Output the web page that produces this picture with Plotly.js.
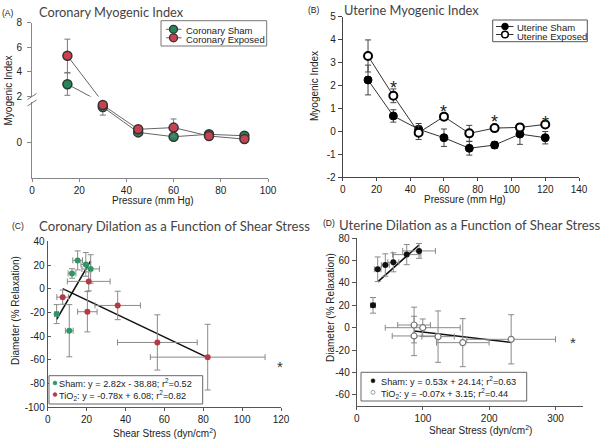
<!DOCTYPE html>
<html>
<head>
<meta charset="utf-8">
<script src="https://cdn.plot.ly/plotly-3.0.1.min.js"></script>
<style>html,body{margin:0;padding:0;background:#fff;}#chart{width:600px;height:442px;}</style>
</head>
<body>
<div id="chart"></div>
<script>
// ---------- DATA ----------
// (A) Coronary myogenic index
const corPressure = [15, 30, 45, 60, 75, 90];
const corShamMI   = [3.0, 1.46, 0.40, 0.22, 0.32, 0.26];
const corShamErr  = [0.9, 0.34, 0.06, 0.06, 0.06, 0.06];
const corExpMI    = [5.3, 1.54, 0.53, 0.60, 0.25, 0.12];
const corExpErr   = [1.35, 0.2, 0.08, 0.36, 0.08, 0.08];
const corUpperTicks = [2, 4, 6, 8];
const corLowerTicks = [0];
const corXTicks = [0, 20, 40, 60, 80, 100];

// (B) Uterine myogenic index
const utPressure = [15, 30, 45, 60, 75, 90, 105, 120];
const utShamMI   = [2.24, 0.67, 0.09, -0.28, -0.74, -0.60, -0.12, -0.28];
const utShamErr  = [0.65, 0.27, 0.25, 0.38, 0.30, 0.15, 0.45, 0.27];
const utExpMI    = [3.29, 1.55, -0.06, 0.64, -0.09, 0.14, 0.17, 0.30];
const utExpErr   = [0.70, 0.30, 0.30, 0.10, 0.35, 0.10, 0.07, 0.10];
const utSigX = [30, 60, 90, 120];
const utSigY = [2.12, 1.06, 0.62, 0.59];
const utXTicks = [0, 20, 40, 60, 80, 100, 120, 140];
const utYTicks = [-2, -1, 0, 1, 2, 3, 4, 5];

// (C) Coronary dilation vs shear stress
const cShamShear = [4.6, 11.1, 12.5, 15.4, 19.6, 22.1];
const cShamShearErr = [1, 2, 2, 2.5, 2.5, 4.5];
const cShamDiam  = [-21.4, -35.4, 12.9, 23.9, 20.5, 16.7];
const cShamDiamErr = [8, 22, 4, 8, 10, 12];
const cTiShear = [7.7, 20.4, 21.1, 36, 56.4, 82.3];
const cTiShearErr = [3, 5, 11, 11.7, 20.5, 29.5];
const cTiDiam  = [-7.1, -19.4, 6.2, -14.1, -45.3, -57.7];
const cTiDiamErr = [6, 17, 8, 12, 23.3, 27.7];
const cFitSlope = [2.82, -0.78];
const cFitIntercept = [-38.88, 6.08];
const cSigX = [119.5], cSigY = [-62];
const cXTicks = [0, 20, 40, 60, 80, 100, 120];
const cYTicks = [-100, -80, -60, -40, -20, 0, 20, 40];

// (D) Uterine dilation vs shear stress
const dShamShear = [24.6, 31.7, 43.2, 55.3, 75.5, 94.1];
const dShamShearErr = [3.8, 5, 6, 8.3, 21.4, 24.7];
const dShamDiam  = [20, 52.3, 56.1, 58.5, 65.4, 68.7];
const dShamDiamErr = [7, 11, 10, 8.5, 9, 6.6];
const dTiShear = [86.6, 99.7, 86.6, 122.8, 160.1, 233.1];
const dTiShearErr = [24.7, 56.6, 33, 24.5, 39.7, 67];
const dTiDiam  = [2.4, 0, -7.4, -8, -13.4, -10.4];
const dTiDiamErr = [16, 7.8, 17.6, 23, 21.5, 22];
const dFitSlope = [0.53, -0.07];
const dFitIntercept = [24.14, 3.15];
const dSigX = [327], dSigY = [-9.5];
const dXTicks = [0, 100, 200, 300];
const dYTicks = [-60, -40, -20, 0, 20, 40, 60, 80];

// ---------- HELPERS ----------
const W = 600, H = 442;
const px = x => x / W;
const py = y => 1 - y / H;
const FONT = 'Liberation Sans, Arial, sans-serif';
const TFONT = 'Lato, Open Sans, sans-serif';
const GREEN = '#23875a', RED = '#c8424f';
const CGREEN = '#2f9666', CRED = '#b53a44';
const ERR = '#8a8a8a';

function fitLine(xs, slope, intercept) {
  const lo = Math.min(...xs), hi = Math.max(...xs);
  return {x: [lo, hi], y: [slope * lo + intercept, slope * hi + intercept]};
}
const labels = v => v.map(t => String(t));

const traces = [];
// ---- (A) ----
const mkA = (c) => ({size: 9, color: c, line: {color: '#333', width: 1.5}});
[['y', corShamMI], ['y', corExpMI], ['y2', corShamMI], ['y2', corExpMI]].forEach(([ya, ys]) => {
  traces.push({x: corPressure, y: ys, xaxis: 'x', yaxis: ya, mode: 'lines',
    line: {color: '#666', width: 1}, hoverinfo: 'skip', showlegend: false});
});
traces.push({x: corPressure.slice(0, 1), y: corShamMI.slice(0, 1), xaxis: 'x', yaxis: 'y', mode: 'markers',
  marker: mkA(GREEN), cliponaxis: false, showlegend: false,
  error_y: {type: 'data', array: corShamErr.slice(0, 1), color: '#777', thickness: 1, width: 3}});
traces.push({x: corPressure.slice(0, 1), y: corExpMI.slice(0, 1), xaxis: 'x', yaxis: 'y', mode: 'markers',
  marker: mkA(RED), cliponaxis: false, showlegend: false,
  error_y: {type: 'data', array: corExpErr.slice(0, 1), color: '#777', thickness: 1, width: 3}});
traces.push({x: corPressure.slice(1), y: corShamMI.slice(1), xaxis: 'x', yaxis: 'y2', mode: 'markers',
  marker: mkA(GREEN), cliponaxis: false, showlegend: false,
  error_y: {type: 'data', array: corShamErr.slice(1), color: '#777', thickness: 1, width: 3}});
traces.push({x: corPressure.slice(1), y: corExpMI.slice(1), xaxis: 'x', yaxis: 'y2', mode: 'markers',
  marker: mkA(RED), cliponaxis: false, showlegend: false,
  error_y: {type: 'data', array: corExpErr.slice(1), color: '#777', thickness: 1, width: 3}});

// ---- (B) ----
traces.push({x: utPressure, y: utShamMI, xaxis: 'x2', yaxis: 'y3', mode: 'lines+markers',
  line: {color: '#333', width: 1}, marker: {size: 8, color: '#000', line: {color: '#000', width: 1}},
  error_y: {type: 'data', array: utShamErr, color: '#444', thickness: 1, width: 3},
  cliponaxis: false, showlegend: false});
traces.push({x: utPressure, y: utExpMI, xaxis: 'x2', yaxis: 'y3', mode: 'lines+markers',
  line: {color: '#333', width: 1}, marker: {size: 8, color: '#fff', line: {color: '#000', width: 2}},
  error_y: {type: 'data', array: utExpErr, color: '#444', thickness: 1, width: 3},
  cliponaxis: false, showlegend: false});

// ---- (C) ----
[fitLine(cShamShear, cFitSlope[0], cFitIntercept[0]), fitLine(cTiShear, cFitSlope[1], cFitIntercept[1])].forEach(f => {
  traces.push({x: f.x, y: f.y, xaxis: 'x3', yaxis: 'y4', mode: 'lines',
    line: {color: '#111', width: 1.6}, showlegend: false, hoverinfo: 'skip'});
});
traces.push({x: cShamShear, y: cShamDiam, xaxis: 'x3', yaxis: 'y4', mode: 'markers',
  marker: {size: 6, color: CGREEN}, cliponaxis: false, showlegend: false,
  error_x: {type: 'data', array: cShamShearErr, color: ERR, thickness: 1, width: 3},
  error_y: {type: 'data', array: cShamDiamErr, color: ERR, thickness: 1, width: 3}});
traces.push({x: cTiShear, y: cTiDiam, xaxis: 'x3', yaxis: 'y4', mode: 'markers',
  marker: {size: 6, color: CRED}, cliponaxis: false, showlegend: false,
  error_x: {type: 'data', array: cTiShearErr, color: ERR, thickness: 1, width: 3},
  error_y: {type: 'data', array: cTiDiamErr, color: ERR, thickness: 1, width: 3}});

// ---- (D) ----
[fitLine(dShamShear.slice(1), dFitSlope[0], dFitIntercept[0]), fitLine(dTiShear, dFitSlope[1], dFitIntercept[1])].forEach(f => {
  traces.push({x: f.x, y: f.y, xaxis: 'x4', yaxis: 'y5', mode: 'lines',
    line: {color: '#111', width: 1.6}, showlegend: false, hoverinfo: 'skip'});
});
traces.push({x: dShamShear, y: dShamDiam, xaxis: 'x4', yaxis: 'y5', mode: 'markers',
  marker: {size: 6, color: '#111'}, cliponaxis: false, showlegend: false,
  error_x: {type: 'data', array: dShamShearErr, color: ERR, thickness: 1, width: 3},
  error_y: {type: 'data', array: dShamDiamErr, color: ERR, thickness: 1, width: 3}});
traces.push({x: dTiShear, y: dTiDiam, xaxis: 'x4', yaxis: 'y5', mode: 'markers',
  marker: {size: 6, color: '#fff', line: {color: '#777', width: 1.2}}, cliponaxis: false, showlegend: false,
  error_x: {type: 'data', array: dTiShearErr, color: ERR, thickness: 1, width: 3},
  error_y: {type: 'data', array: dTiDiamErr, color: ERR, thickness: 1, width: 3}});

// ---------- AXES ----------
function axis(opts) {
  return Object.assign({
    showline: true, linecolor: '#666', linewidth: 1, ticks: 'outside', ticklen: 3,
    tickcolor: '#666', showgrid: false, zeroline: false, fixedrange: true,
    tickfont: {family: FONT, size: 10, color: '#222'}, tickmode: 'array'
  }, opts);
}

const layout = {
  width: W, height: H, margin: {l: 0, r: 0, t: 0, b: 0},
  paper_bgcolor: '#fff', plot_bgcolor: 'rgba(0,0,0,0)', showlegend: false,
  font: {family: FONT, size: 10, color: '#222'},
  xaxis: axis({domain: [px(32), px(268)], range: [0, 100], anchor: 'y2',
    tickvals: corXTicks, ticktext: labels(corXTicks), linecolor: '#888', tickcolor: '#888'}),
  yaxis: axis({domain: [py(96.5), py(22.5)], range: [2, 8], anchor: 'x',
    tickvals: corUpperTicks, ticktext: labels(corUpperTicks), linecolor: '#888', tickcolor: '#888', ticklen: 4, ticklabelstandoff: 3}),
  yaxis2: axis({domain: [py(178), py(102.4)], range: [-1.5, 1.65], anchor: 'x',
    tickvals: corLowerTicks, ticktext: labels(corLowerTicks), linecolor: '#888', tickcolor: '#888', ticklen: 4, ticklabelstandoff: 3}),
  xaxis2: axis({domain: [px(342.7), px(579)], range: [0, 140], anchor: 'y3',
    tickvals: utXTicks, ticktext: labels(utXTicks), linecolor: '#444', tickcolor: '#444'}),
  yaxis3: axis({domain: [py(177.1), py(16.8)], range: [-2, 5], anchor: 'x2',
    tickvals: utYTicks, ticktext: labels(utYTicks), linecolor: '#444', tickcolor: '#444', ticklen: 4}),
  xaxis3: axis({domain: [px(47.7), px(281)], range: [0, 120], anchor: 'y4',
    tickvals: cXTicks, ticktext: labels(cXTicks), linecolor: '#555', tickcolor: '#555'}),
  yaxis4: axis({domain: [py(407.3), py(241.3)], range: [-100, 40], anchor: 'x3',
    tickvals: cYTicks, ticktext: labels(cYTicks), linecolor: '#555', tickcolor: '#555', ticks: 'inside'}),
  xaxis4: axis({domain: [px(356.7), px(583.3)], range: [0, 342], anchor: 'y5',
    tickvals: dXTicks, ticktext: labels(dXTicks), linecolor: '#555', tickcolor: '#555'}),
  yaxis5: axis({domain: [py(405.9), py(238.3)], range: [-70, 80], anchor: 'x4',
    tickvals: dYTicks, ticktext: labels(dYTicks), linecolor: '#555', tickcolor: '#555', ticklen: 4})
};

// ---------- ANNOTATIONS ----------
const ann = [];
function txt(x, y, text, o) {
  ann.push(Object.assign({xref: 'paper', yref: 'paper', x: px(x), y: py(y), text: text, showarrow: false,
    xanchor: 'center', yanchor: 'middle', font: {family: FONT, size: 10, color: '#222'}}, o || {}));
}
// panel labels
const pl = {family: FONT, size: 8.5, color: '#222'};
txt(8, 13, '(A)', {font: pl});
txt(313.5, 10, '(B)', {font: pl});
txt(17.5, 226.5, '(C)', {font: pl});
txt(328.5, 223, '(D)', {font: pl});
// titles
txt(36.5, 12, 'Coronary Myogenic Index', {xanchor: 'left', font: {family: TFONT, size: 12.8, color: '#444'}});
txt(342, 9.5, 'Uterine Myogenic Index', {xanchor: 'left', font: {family: TFONT, size: 12.8, color: '#444'}});
txt(36.5, 226, 'Coronary Dilation as a Function of Shear Stress', {xanchor: 'left', font: {family: TFONT, size: 13.2, color: '#444'}});
txt(337, 225, 'Uterine Dilation as a Function of Shear Stress', {xanchor: 'left', font: {family: TFONT, size: 13.2, color: '#444'}});
// axis titles
txt(8.5, 91, 'Myogenic Index', {textangle: -90});
txt(153, 201, 'Pressure (mm Hg)');
txt(315, 86, 'Myogenic Index', {textangle: -90});
txt(465, 200, 'Pressure (mm Hg)');
txt(15, 311, 'Diameter (% Relaxation)', {textangle: -90});
txt(164, 433, 'Shear Stress (dyn/cm<sup>2</sup>)');
txt(330, 308, 'Diameter (% Relaxation)', {textangle: -90});
txt(480, 430, 'Shear Stress (dyn/cm<sup>2</sup>)');

// significance asterisks
utSigX.forEach((x, i) => ann.push({xref: 'x2', yref: 'y3', x: x, y: utSigY[i], text: '*', showarrow: false,
  yshift: -5, font: {family: FONT, size: 18, color: '#222'}}));
cSigX.forEach((x, i) => ann.push({xref: 'x3', yref: 'y4', x: x, y: cSigY[i], text: '*', showarrow: false,
  yshift: -4, font: {family: FONT, size: 15, color: '#333'}}));
dSigX.forEach((x, i) => ann.push({xref: 'x4', yref: 'y5', x: x, y: dSigY[i], text: '*', showarrow: false,
  yshift: -4, font: {family: FONT, size: 15, color: '#333'}}));

// legends drawn with shapes + text
const shapes = [];
function rect(x0, y0, x1, y1, color) {
  shapes.push({type: 'rect', xref: 'paper', yref: 'paper', x0: px(x0), x1: px(x1), y0: py(y1), y1: py(y0),
    line: {color: color || '#777', width: 1}, fillcolor: 'rgba(255,255,255,1)', layer: 'above'});
}
function seg(x0, y0, x1, y1, color, w) {
  shapes.push({type: 'line', xref: 'paper', yref: 'paper', x0: px(x0), x1: px(x1), y0: py(y0), y1: py(y1),
    line: {color: color, width: w || 1}, layer: 'above'});
}
function dot(cx, cy, r, fill, lc, lw) {
  shapes.push({type: 'circle', xref: 'paper', yref: 'paper', xsizemode: 'pixel', ysizemode: 'pixel',
    xanchor: px(cx), yanchor: py(cy), x0: -r, x1: r, y0: -r, y1: r,
    fillcolor: fill, line: {color: lc, width: lw}, layer: 'above'});
}
const lf = {family: FONT, size: 9.5, color: '#222'};
// A legend
rect(161, 20.7, 266.7, 46, '#777');
seg(166, 29.3, 181.5, 29.3, '#666', 1); dot(173.5, 29.3, 4, GREEN, '#333', 1.3);
seg(166, 37.8, 181.5, 37.8, '#666', 1); dot(173.5, 37.8, 4, RED, '#333', 1.3);
txt(183.5, 30.3, 'Coronary Sham', {xanchor: 'left', font: lf});
txt(183.5, 39.3, 'Coronary Exposed', {xanchor: 'left', font: lf});
// B legend
rect(492.7, 20, 587.3, 41.7, '#555');
seg(496, 26.5, 513.5, 26.5, '#333', 1); dot(505, 26.5, 3.3, '#000', '#000', 1);
seg(496, 34.5, 513.5, 34.5, '#333', 1); dot(505, 34.5, 3.3, '#fff', '#000', 1.5);
txt(514.5, 27.8, 'Uterine Sham', {xanchor: 'left', font: lf});
txt(514.5, 36, 'Uterine Exposed', {xanchor: 'left', font: lf});
// C legend
rect(49, 375.7, 202.7, 404, '#666');
dot(55, 383, 2, CGREEN, CGREEN, 0.5);
dot(55, 394.6, 2, CRED, CRED, 0.5);
txt(56.5, 389.6, 'Sham: y = 2.82x - 38.88; r<sup>2</sup>=0.52<br>TiO<sub>2</sub>: y = -0.78x + 6.08; r<sup>2</sup>=0.82',
  {xanchor: 'left', align: 'left', font: {family: FONT, size: 9.2, color: '#222'}});
// D legend
rect(361, 372.3, 526.7, 401, '#666');
dot(373, 380.8, 2, '#111', '#111', 0.5);
dot(373, 392.4, 2, '#fff', '#888', 0.8);
txt(379, 387.4, 'Sham: y = 0.53x + 24.14; r<sup>2</sup>=0.63<br>TiO<sub>2</sub>: y = -0.07x + 3.15; r<sup>2</sup>=0.44',
  {xanchor: 'left', align: 'left', font: {family: FONT, size: 9.2, color: '#222'}});

// axis break marks for (A)
seg(27.5, 99.5, 36.5, 93.5, '#777', 1);
seg(27.5, 106, 36.5, 100, '#777', 1);

layout.annotations = ann;
layout.shapes = shapes;

Plotly.newPlot('chart', traces, layout, {staticPlot: true, displayModeBar: false});
</script>
</body>
</html>
